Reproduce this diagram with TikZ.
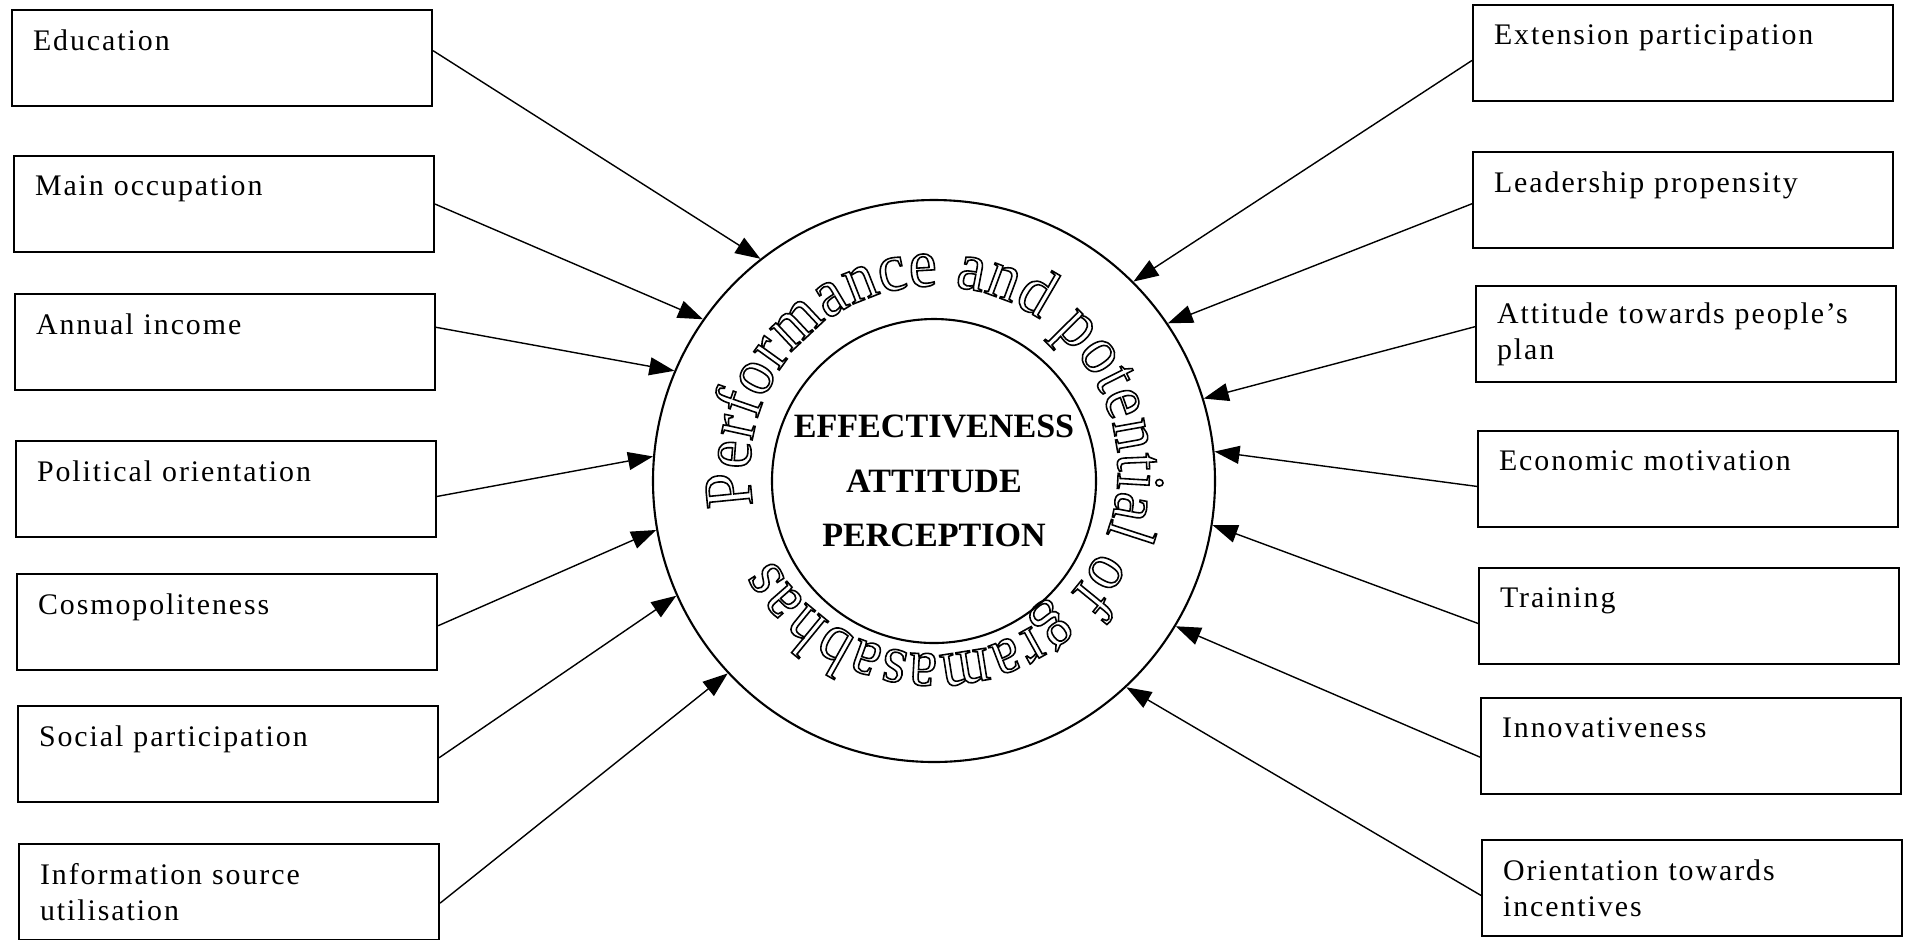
\documentclass[tikz,border=0pt]{standalone}
\usepackage{fontspec}
\setmainfont{Liberation Serif}
\newfontfamily\boxfont[LetterSpace=6.5]{Liberation Serif}
\newfontfamily\ringfam[FakeStretch=0.92]{Liberation Serif}
\usetikzlibrary{arrows.meta,decorations.text}

% outlined letters for the ring text
\newcommand{\ringfont}{\ringfam\fontsize{19.5}{23}\selectfont\special{pdf:literal direct 1 Tr 0.45 w}}

\begin{document}
\begin{tikzpicture}[x=0.1mm,y=0.1mm,
  factor/.style={draw, line width=0.6pt, anchor=north west, minimum width=42mm, minimum height=9.6mm,
    text width=37.8mm, inner xsep=2.1mm, inner ysep=0pt, align=left,
    font=\boxfont\fontsize{8.5}{10.3}\selectfont},
  link/.style={-{Triangle[length=2.5mm,width=1.8mm]}, line width=0.4pt},
  ring/.style={draw, circle, line width=0.6pt, inner sep=0pt}]
\useasboundingbox (0,0) rectangle (1908,-939);

% centre
\node[ring, minimum size=56.2mm] (outer) at (934,-481) {};
\node[ring, minimum size=32.4mm, align=center, font=\bfseries\fontsize{9.7}{15.5}\selectfont] (inner) at (934,-481) {EFFECTIVENESS\\ATTITUDE\\PERCEPTION};
\coordinate (mid) at ([yshift=1.1mm]outer.center);
\begin{scope}
\path[decorate, decoration={text along path, text align=fit to path,
  text={|\ringfont|Performance and potential of gramasabhas}}]
  ([shift={(191:18.4mm)}]mid) arc[start angle=191, end angle=-151, radius=18.4mm];
\end{scope}

% left factors
\node[factor] (edu) at (11,-9) {Education\\~};
\node[factor] (occ) at (13,-155) {Main occupation\\~};
\node[factor] (income) at (14,-293) {Annual income\\~};
\node[factor] (polit) at (15,-440) {Political orientation\\~};
\node[factor] (cosmo) at (16,-573) {Cosmopoliteness\\~};
\node[factor] (social) at (17,-705) {Social participation\\~};
\node[factor] (info) at (18,-843) {Information source\\utilisation};

% right factors
\node[factor] (ext) at (1472,-4) {Extension participation\\~};
\node[factor] (lead) at (1472,-151) {Leadership propensity\\~};
\node[factor] (attit) at (1475,-285) {Attitude towards people’s\\plan};
\node[factor] (econ) at (1477,-430) {Economic motivation\\~};
\node[factor] (train) at (1478,-567) {Training\\~};
\node[factor] (innov) at (1480,-697) {Innovativeness\\~};
\node[factor] (incent) at (1481,-839) {Orientation towards\\incentives};

% arrows into the ring
\draw[link] (edu.2) -- (outer.128.5);
\draw[link] (occ.east) -- (outer.145);
\draw[link] (income.4) -- (outer.157);
\draw[link] (polit.-2) -- (outer.175);
\draw[link] (cosmo.-1) -- (outer.190.5);
\draw[link] (social.-1.5) -- (outer.204.5);
\draw[link] (info.-3.5) -- (outer.223);
\draw[link] (ext.182.5) -- (outer.45);
\draw[link] (lead.181) -- (outer.34.5);
\draw[link] (attit.178) -- (outer.17);
\draw[link] (econ.182.7) -- (outer.6.7);
\draw[link] (train.182.2) -- (outer.-9.7);
\draw[link] (innov.183.3) -- (outer.-31);
\draw[link] (incent.182) -- (outer.-47.5);
\end{tikzpicture}
\end{document}
